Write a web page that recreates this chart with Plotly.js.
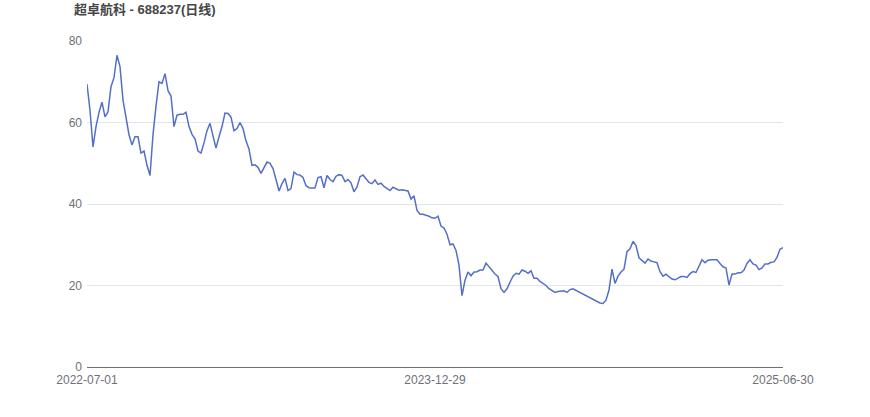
<!DOCTYPE html>
<html>
<head>
<meta charset="utf-8">
<script src="https://cdn.plot.ly/plotly-3.0.1.min.js"></script>
<style>html,body{margin:0;padding:0;background:#fff;}#chart{width:870px;height:417px;}</style>
</head>
<body>
<div id="chart"></div>
<script>
const chartTitle = "超卓航科 - 688237(日线)";
const tickLabels = ["2022-07-01", "2023-12-29", "2025-06-30"];
const yTicks = [0, 20, 40, 60, 80];
// closing prices, sampled evenly across the period
const closePrices = [
  69.4, 63, 54, 59, 62.5, 65, 61.4, 62.6, 68.8, 71,
  76.5, 73.7, 65.5, 61.5, 57, 54.5, 56.5, 56.5, 52.5, 53,
  49.5, 47, 57, 64, 70, 69.6, 72, 67.8, 66.5, 59,
  61.8, 62, 62, 62.5, 59, 57.1, 56, 53, 52.5, 55,
  58, 59.8, 56.5, 53.7, 56.5, 59, 62.3, 62.2, 61.3, 58,
  58.5, 60, 58.5, 55.5, 53.5, 49.5, 49.6, 49, 47.5, 49,
  50.3, 50, 48.7, 46, 43.2, 45, 46.3, 43.3, 43.8, 47.8,
  47.2, 47.1, 46.5, 44.5, 44, 43.9, 43.9, 46.5, 46.7, 44,
  47, 46, 45.5, 46.8, 47.2, 47, 45.5, 46, 45.2, 43,
  44.2, 46.7, 47.1, 46.2, 45.3, 45, 45.9, 44.8, 45.1, 44.3,
  43.7, 43.3, 44.1, 43.8, 43.4, 43.5, 43.4, 43.2, 41.2, 42,
  38.4, 37.5, 37.5, 37.3, 37, 36.6, 36.5, 37, 34.6, 34.1,
  32.6, 30, 30.2, 28.6, 25, 17.5, 21.3, 23.3, 22.4, 23.3,
  23.4, 23.8, 23.8, 25.5, 24.6, 23.8, 22.8, 22.2, 19.2, 18.3,
  19.2, 20.8, 22.3, 23, 22.8, 23.8, 23.5, 23, 23.6, 21.8,
  21.8, 21, 20.5, 20, 19.2, 18.8, 18.3, 18.5, 18.6, 18.7,
  18.3, 19, 19.2, 18.8, 18.5, 18, 17.7, 17.4, 17, 16.5,
  16, 15.7, 15.6, 16.4, 18.9, 24, 20.5, 22.3, 23.3, 24,
  28.3, 29, 30.8, 29.8, 26.8, 26.1, 25.5, 26.5, 26, 25.8,
  25.6, 23.4, 22.3, 22.8, 22.1, 21.6, 21.4, 21.7, 22.2, 22.2,
  22, 22.9, 23.4, 23.2, 24.6, 26.3, 25.6, 26.2, 26.3, 26.3,
  26.3, 25.4, 24.6, 24.3, 20.1, 22.8, 22.8, 23.1, 23.1, 23.8,
  25.4, 26.3, 25.3, 25, 23.9, 24.3, 25.3, 25.3, 25.7, 25.8,
  26.9, 28.9, 29.3
];

const idx = closePrices.map((_, i) => i);
const last = closePrices.length - 1;
const tickPos = [0, Math.round(last / 2), last];

const font = "'Liberation Sans', Arial, 'Noto Sans CJK SC', sans-serif";

Plotly.newPlot("chart", [{
  x: idx,
  y: closePrices,
  type: "scatter",
  mode: "lines",
  line: {color: "#5470c6", width: 1.5},
  hoverinfo: "skip"
}], {
  width: 870,
  height: 417,
  margin: {l: 87, r: 87, t: 41, b: 50},
  paper_bgcolor: "#fff",
  plot_bgcolor: "#fff",
  showlegend: false,
  font: {family: font, size: 12, color: "#6E7079"},
  title: {
    text: "<b>" + chartTitle + "</b>",
    x: 74 / 870, xref: "container", xanchor: "left",
    y: 1 - 9 / 417, yref: "container", yanchor: "middle",
    font: {family: font, size: 13, color: "#464646"}
  },
  xaxis: {
    range: [0, last],
    tickmode: "array",
    tickvals: tickPos,
    ticktext: tickLabels,
    showgrid: false,
    zeroline: false,
    showline: true,
    linecolor: "#6E7079",
    linewidth: 1,
    ticks: "",
    ticklabelstandoff: 2,
    tickfont: {size: 12, color: "#6E7079"}
  },
  yaxis: {
    range: [0, 80],
    tickmode: "array",
    tickvals: yTicks,
    showgrid: true,
    gridcolor: "#E0E6F1",
    gridwidth: 1,
    zeroline: false,
    showline: false,
    ticks: "",
    ticklabelstandoff: 4,
    tickfont: {size: 12, color: "#6E7079"}
  }
}, {displayModeBar: false, staticPlot: true});
</script>
</body>
</html>
